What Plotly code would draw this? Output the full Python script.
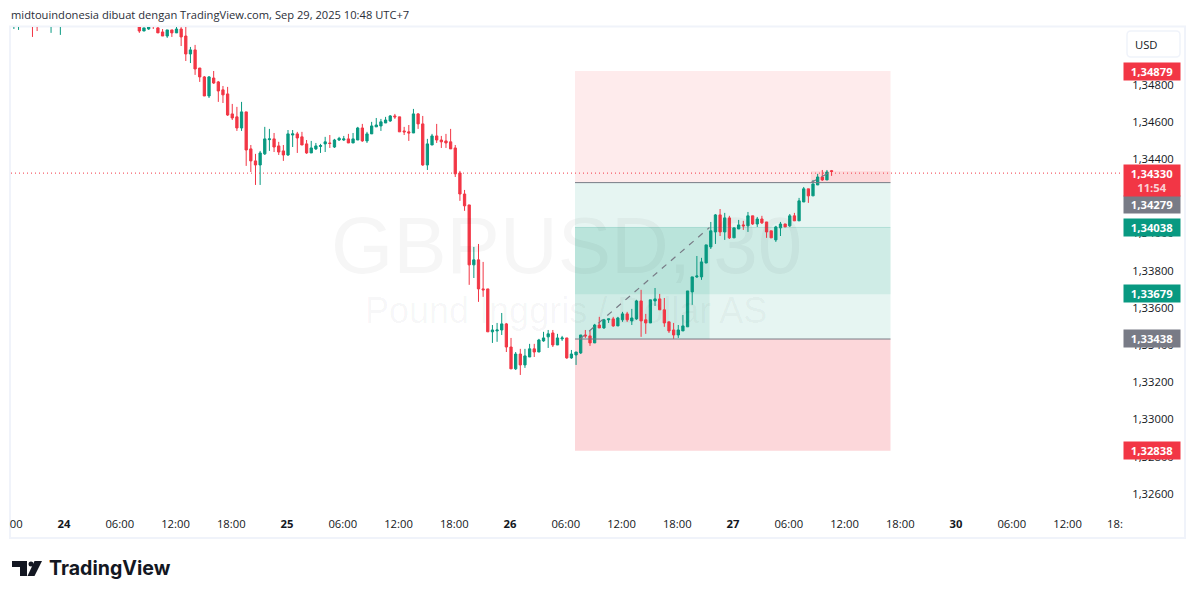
import plotly.graph_objects as go

GREEN = "#089981"
RED = "#F23645"
GREY = "#787B86"
TEXT = "#131722"

# candles, first six only show their lower wick under the top edge of the pane
bar_index = [-11, -10, -7, -6, -3, -1] + list(range(16, 166))

# values in points (1/100000)
opens = [135150, 135150, 135180, 135150, 135150, 135150,
    135111, 135089, 135100, 135130, 135106, 135084, 135062, 135095, 135079, 135100, 135062, 134965, 134987, 134889,
    134841, 134738, 134835, 134814, 134771, 134749, 134641, 134625, 134565, 134652, 134452, 134387, 134365, 134425,
    134502, 134506, 134468, 134441, 134419, 134527, 134533, 134517, 134479, 134430, 134452, 134465, 134479, 134484,
    134462, 134500, 134500, 134506, 134484, 134500, 134565, 134495, 134533, 134571, 134576, 134592, 134603, 134630,
    134625, 134549, 134544, 134538, 134641, 134587, 134365, 134473, 134522, 134500, 134495, 134490, 134457, 134322,
    134208, 134149, 133825, 133852, 133695, 133695, 133463, 133468, 133473, 133506, 133381, 133263, 133343, 133284,
    133327, 133371, 133354, 133414, 133436, 133457, 133392, 133425, 133430, 133322, 133338, 133349, 133446, 133441,
    133403, 133500, 133484, 133528, 133533, 133495, 133528, 133560, 133522, 133533, 133630, 133528, 133511, 133630,
    133641, 133582, 133517, 133473, 133446, 133468, 133490, 133679, 133760, 133760, 133835, 133922, 134003, 134095,
    134003, 134079, 133971, 134019, 134041, 134036, 134090, 134046, 134073, 134057, 134009, 133960, 134025, 134046,
    134036, 134090, 134063, 134165, 134236, 134198, 134257, 134300, 134284, 134334]
highs = [135170, 135170, 135190, 135160, 135170, 135170,
    135120, 135106, 135115, 135135, 135110, 135100, 135095, 135095, 135111, 135110, 135120, 135003, 135014, 134889,
    134846, 134846, 134873, 134819, 134792, 134787, 134695, 134679, 134706, 134652, 134473, 134425, 134441, 134571,
    134560, 134538, 134490, 134473, 134554, 134554, 134544, 134544, 134500, 134495, 134484, 134479, 134517, 134527,
    134506, 134517, 134522, 134533, 134538, 134571, 134587, 134544, 134598, 134619, 134614, 134625, 134635, 134641,
    134625, 134571, 134581, 134668, 134646, 134630, 134506, 134533, 134587, 134522, 134533, 134560, 134473, 134333,
    134230, 134149, 133922, 133938, 133841, 133695, 133500, 133511, 133565, 133511, 133430, 133354, 133371, 133371,
    133398, 133398, 133425, 133463, 133473, 133473, 133452, 133441, 133430, 133365, 133354, 133446, 133473, 133468,
    133506, 133544, 133533, 133533, 133544, 133544, 133571, 133571, 133587, 133636, 133690, 133560, 133636, 133700,
    133668, 133646, 133517, 133511, 133500, 133554, 133684, 133760, 133873, 133863, 133933, 134057, 134100, 134127,
    134106, 134090, 134025, 134068, 134063, 134111, 134090, 134084, 134090, 134057, 134009, 134036, 134057, 134046,
    134100, 134106, 134187, 134246, 134236, 134284, 134317, 134338, 134338, 134338]
lows = [135100, 135095, 135057, 135089, 135079, 135068,
    135079, 135089, 135095, 135100, 135079, 135062, 135052, 135057, 135079, 135008, 134927, 134916, 134852, 134814,
    134738, 134727, 134803, 134706, 134700, 134630, 134608, 134549, 134549, 134360, 134327, 134257, 134257, 134419,
    134441, 134435, 134419, 134387, 134414, 134462, 134430, 134473, 134425, 134430, 134446, 134430, 134435, 134457,
    134457, 134495, 134495, 134484, 134484, 134500, 134490, 134484, 134533, 134571, 134549, 134592, 134598, 134614,
    134544, 134527, 134495, 134538, 134560, 134360, 134338, 134473, 134484, 134457, 134457, 134452, 134300, 134171,
    134117, 133717, 133754, 133625, 133652, 133463, 133403, 133409, 133446, 133354, 133263, 133257, 133230, 133268,
    133327, 133327, 133354, 133409, 133376, 133381, 133392, 133414, 133317, 133317, 133284, 133343, 133430, 133387,
    133403, 133484, 133479, 133511, 133490, 133495, 133517, 133517, 133500, 133528, 133436, 133452, 133511, 133603,
    133582, 133490, 133457, 133425, 133430, 133468, 133490, 133609, 133754, 133744, 133835, 133911, 133938, 133981,
    133960, 133965, 133971, 134019, 134014, 134003, 134041, 134030, 134046, 133971, 133971, 133949, 133981, 134030,
    134030, 134063, 134063, 134165, 134160, 134198, 134257, 134279, 134284, 134306]
closes = [135160, 135160, 135160, 135120, 135160, 135160,
    135089, 135106, 135112, 135115, 135079, 135062, 135095, 135079, 135100, 135057, 134965, 134987, 134884, 134841,
    134738, 134841, 134808, 134765, 134744, 134635, 134619, 134565, 134652, 134446, 134387, 134365, 134430, 134506,
    134506, 134462, 134435, 134419, 134533, 134533, 134511, 134473, 134430, 134457, 134468, 134470, 134490, 134481,
    134500, 134509, 134506, 134484, 134506, 134565, 134495, 134533, 134576, 134581, 134598, 134608, 134630, 134625,
    134544, 134544, 134538, 134641, 134587, 134365, 134479, 134522, 134500, 134490, 134484, 134452, 134317, 134208,
    134144, 133825, 133852, 133695, 133690, 133463, 133473, 133473, 133506, 133381, 133263, 133343, 133284, 133333,
    133371, 133354, 133419, 133430, 133452, 133392, 133430, 133430, 133322, 133343, 133354, 133446, 133441, 133403,
    133500, 133484, 133528, 133533, 133495, 133538, 133560, 133528, 133538, 133630, 133522, 133511, 133636, 133641,
    133582, 133511, 133468, 133446, 133473, 133495, 133684, 133760, 133765, 133841, 133933, 134009, 134095, 134003,
    134079, 133971, 134025, 134041, 134036, 134090, 134046, 134073, 134052, 134003, 133971, 134030, 134046, 134030,
    134090, 134063, 134171, 134236, 134198, 134262, 134300, 134284, 134327, 134330]

tick_bars = [-10.3, 0, 12, 24, 36, 48, 60, 72, 84, 96, 108, 120, 132, 144, 156, 168, 180, 192, 204, 216, 226.2]
tick_text = ["00", "<b>24</b>", "06:00", "12:00", "18:00", "<b>25</b>", "06:00", "12:00", "18:00", "<b>26</b>",
    "06:00", "12:00", "18:00", "<b>27</b>", "06:00", "12:00", "18:00", "<b>30</b>", "06:00", "12:00", "18:"]
price_ticks = [1.326, 1.328, 1.330, 1.332, 1.334, 1.336, 1.338, 1.340, 1.342, 1.344, 1.346, 1.348]

# long position drawing
stop_top = 1.34879
entry_upper = 1.34279
band_top = 1.34038
band_bottom = 1.33679
entry_lower = 1.33438
stop_bottom = 1.32838
last_price = 1.34330

PLOT_L, PLOT_R, PLOT_T, PLOT_B = 11, 1122, 27, 510


def to_price(points):
    # the tick labels sit about 2px high of the real scale, points were read against them
    return [(135261 - 0.9946 * (135257 - p)) / 100000 for p in points]


def px_x(x):
    return (x - PLOT_L) / (PLOT_R - PLOT_L)


def px_y(y):
    return (PLOT_B - y) / (PLOT_B - PLOT_T)


def bar_at(x):
    return (x - 65) / 4.646


fig = go.Figure()
fig.add_trace(go.Candlestick(
    x=bar_index,
    open=to_price(opens), high=to_price(highs), low=to_price(lows), close=to_price(closes),
    increasing=dict(line=dict(color=GREEN, width=1), fillcolor=GREEN),
    decreasing=dict(line=dict(color=RED, width=1), fillcolor=RED),
    whiskerwidth=0,
    showlegend=False,
    hoverinfo="skip",
))

left, mid, right = bar_at(575), bar_at(709.5), bar_at(890.5)
GREEN_FILL = "rgba(8,153,129,0.1)"

def zone(x0, x1, y0, y1, color):
    fig.add_shape(type="rect", xref="x", yref="y", x0=x0, x1=x1, y0=y0, y1=y1,
                  fillcolor=color, line_width=0, layer="below")

zone(left, right, entry_upper, stop_top, "rgba(242,54,69,0.1)")
zone(left, right, entry_lower, entry_upper, GREEN_FILL)
zone(left, right, stop_bottom, entry_lower, "rgba(242,54,69,0.2)")
zone(left, right, band_bottom, band_top, GREEN_FILL)
zone(left, mid, entry_lower, band_top, GREEN_FILL)
zone(bar_at(811), right, entry_upper, 1.34340, "rgba(242,54,69,0.1)")

for lvl, col in [(entry_upper, GREY), (entry_lower, GREY), (band_top, "rgba(8,153,129,0.2)")]:
    fig.add_shape(type="line", xref="x", yref="y", x0=left, x1=right, y0=lvl, y1=lvl,
                  line=dict(color=col, width=1))

# dashed path of the position
fig.add_shape(type="line", xref="x", yref="y", x0=bar_at(580), x1=mid, y0=entry_lower, y1=band_top,
              line=dict(color=GREY, width=1.2, dash="6px,6px"))
fig.add_shape(type="line", xref="x", yref="y", x0=bar_at(811), x1=bar_at(830), y0=entry_upper, y1=1.34335,
              line=dict(color=GREY, width=1.2, dash="6px,6px"))

# last price line
fig.add_shape(type="line", xref="paper", yref="y", x0=0, x1=1, y0=last_price, y1=last_price,
              line=dict(color=RED, width=1, dash="1px,3px"))

# outer frame
fig.add_shape(type="rect", xref="paper", yref="paper", x0=px_x(10), x1=px_x(1185), y0=px_y(538), y1=px_y(26.5),
              line=dict(color="#F0F3FA", width=2), layer="below")

# USD button
x0, x1, y0, y1 = px_x(1127), px_x(1180), px_y(57), px_y(31)
rx, ry = 4 / (PLOT_R - PLOT_L), 4 / (PLOT_B - PLOT_T)
fig.add_shape(type="path", xref="paper", yref="paper", line=dict(color="#F0F3FA", width=1.5),
              path=f"M{x0 + rx},{y0} L{x1 - rx},{y0} Q{x1},{y0} {x1},{y0 + ry} L{x1},{y1 - ry} Q{x1},{y1} {x1 - rx},{y1} "
                   f"L{x0 + rx},{y1} Q{x0},{y1} {x0},{y1 - ry} L{x0},{y0 + ry} Q{x0},{y0} {x0 + rx},{y0} Z")

# TradingView logo
LOGO = "#131722"
def logo_path(points):
    return "M" + " L".join(f"{px_x(a)},{px_y(b)}" for a, b in points) + " Z"

fig.add_shape(type="path", xref="paper", yref="paper", fillcolor=LOGO, line_width=0,
              path=logo_path([(12, 561), (27, 561), (27, 576), (20, 576), (20, 567), (12, 567)]))
fig.add_shape(type="path", xref="paper", yref="paper", fillcolor=LOGO, line_width=0,
              path=logo_path([(34.5, 561), (42, 561), (34.5, 576), (27.5, 576)]))
fig.add_shape(type="circle", xref="paper", yref="paper", fillcolor=LOGO, line_width=0,
              x0=px_x(28.5), x1=px_x(33.5), y0=px_y(566.5), y1=px_y(561.5))

annotations = [
    # watermark
    dict(x=px_x(566), y=px_y(245), text="GBPUSD, 30", font=dict(family="Liberation Sans", size=80, color="rgba(19,23,34,0.04)")),
    dict(x=px_x(566), y=px_y(310), text="Pound Inggris / Dollar AS", font=dict(family="Liberation Sans", size=36, color="rgba(19,23,34,0.04)")),
    # header and footer
    dict(x=px_x(8.5), y=px_y(15), xanchor="left", text="midtouindonesia dibuat dengan TradingView.com, Sep 29, 2025 10:48 UTC+7",
         font=dict(size=11.15, color="#2A2E39")),
    dict(x=px_x(46.5), y=px_y(568), xanchor="left", text="<b>TradingView</b>",
         font=dict(family="Inter", size=19.6, color=LOGO)),
    dict(x=px_x(1146), y=px_y(44), text="USD", font=dict(size=11.25, color=TEXT)),
]

labels = [
    ("1,34879", 71.5, RED),
    ("1,34279", 204.5, GREY),
    ("1,34038", 227.5, GREEN),
    ("1,33679", 293.5, GREEN),
    ("1,33438", 338.5, GREY),
    ("1,32838", 450.5, RED),
]
for text, y, col in labels:
    annotations.append(dict(x=px_x(1152), y=px_y(y), text=f"<b>{text}</b>", width=56, height=17, bgcolor=col, borderpad=0,
                            font=dict(size=11.25, color="white")))
annotations.append(dict(x=px_x(1152), y=px_y(180.5), width=56, height=31, bgcolor=RED, borderpad=0,
                        text="<b>1,34330</b><br><span style='color:#FBD0D4'><b>11:54</b></span>",
                        font=dict(size=11.25, color="white")))
for a in annotations:
    a.update(xref="paper", yref="paper", showarrow=False)
    a.setdefault("xanchor", "center")
    a.setdefault("yanchor", "middle")

fig.update_layout(
    width=1195, height=598,
    margin=dict(l=PLOT_L, r=1195 - PLOT_R, t=PLOT_T, b=598 - PLOT_B),
    paper_bgcolor="white", plot_bgcolor="white",
    font=dict(family="Open Sans", size=11.25, color=TEXT),
    separators=",.",
    showlegend=False,
    boxgap=0.3,
    annotations=annotations,
    xaxis=dict(
        range=[bar_at(PLOT_L), bar_at(PLOT_R)], rangeslider=dict(visible=False),
        tickmode="array", tickvals=tick_bars, ticktext=tick_text, ticklabelshift=-1,
        showgrid=False, zeroline=False, showline=False,
        ticks="outside", ticklen=3, tickcolor="rgba(0,0,0,0)", tickfont=dict(size=11.25, color=TEXT),
    ),
    yaxis=dict(
        range=[1.325188, 1.351156], side="right",
        tickmode="array", tickvals=price_ticks, tickformat=".5f", ticklabelshift=-1,
        showgrid=False, zeroline=False, showline=False,
        ticks="outside", ticklen=7, tickcolor="rgba(0,0,0,0)", tickfont=dict(size=11.25, color=TEXT),
    ),
)

fig.write_html("out.html", post_script="document.body.style.margin='0';", config=dict(displayModeBar=False))
